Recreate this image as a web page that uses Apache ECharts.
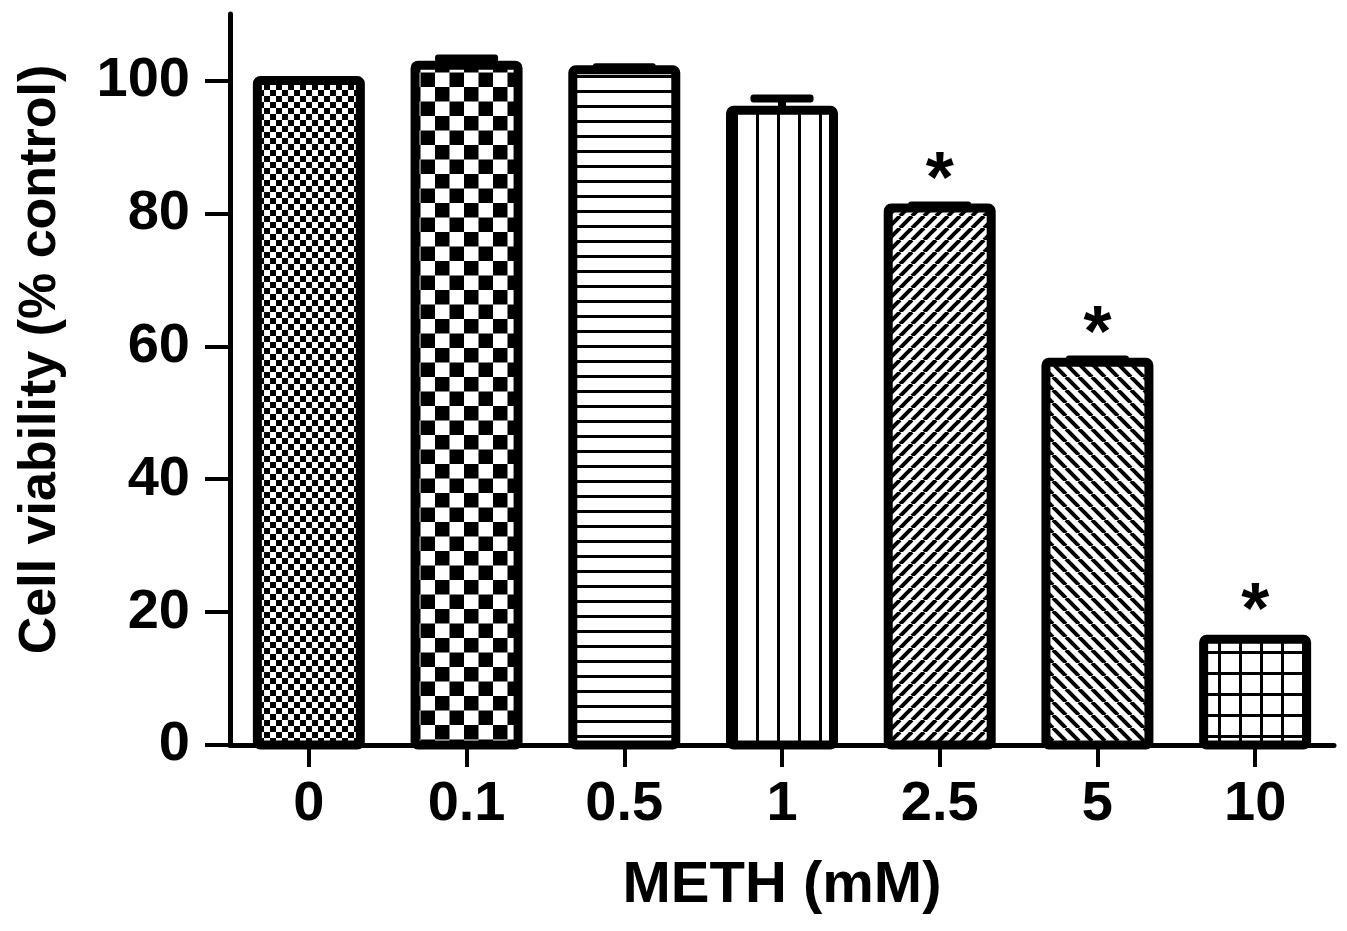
<!DOCTYPE html>
<html><head><meta charset="utf-8">
<script src="https://cdn.jsdelivr.net/npm/echarts@6/dist/echarts.min.js"></script>
<style>html,body{margin:0;padding:0;background:#fff}#c{width:1347px;height:931px}</style>
</head><body><div id="c"></div>
<script>
const categories = ['0', '0.1', '0.5', '1', '2.5', '5', '10'];
const viability = [100, 102.3, 101.6, 95.5, 80.8, 57.6, 15.9];
const sem = [0, 1.0, 0.4, 1.8, 0.4, 0.4, 0];
const significance = ['', '', '', '', '*', '*', '*'];
const yTicks = [0, 20, 40, 60, 80, 100];
const patternKinds = ['fineChecker', 'coarseChecker', 'hlines', 'vlines', 'diagFwd', 'diagBack', 'grid'];

function makePattern(kind) {
  const c = document.createElement('canvas');
  const ctx = c.getContext('2d');
  let w = 12, h = 12;
  if (kind === 'fineChecker') { w = h = 12; }
  else if (kind === 'coarseChecker') { w = h = 29; }
  else if (kind === 'hlines') { w = 4; h = 15; }
  else if (kind === 'vlines') { w = 21; h = 4; }
  else if (kind === 'diagFwd') { w = h = 12; }
  else if (kind === 'diagBack') { w = h = 13; }
  else if (kind === 'grid') { w = h = 21; }
  c.width = w; c.height = h;
  ctx.fillStyle = '#fff'; ctx.fillRect(0, 0, w, h);
  ctx.fillStyle = '#000'; ctx.strokeStyle = '#000';
  if (kind === 'fineChecker') {
    ctx.fillRect(0, 0, 6, 6); ctx.fillRect(6, 6, 6, 6);
  } else if (kind === 'coarseChecker') {
    ctx.fillRect(0, 0, 14.5, 14.5); ctx.fillRect(14.5, 14.5, 14.5, 14.5);
  } else if (kind === 'hlines') {
    ctx.fillRect(0, 0, w, 3);
  } else if (kind === 'vlines') {
    ctx.fillRect(0, 0, 3, h);
  } else if (kind === 'diagFwd') {
    ctx.lineWidth = 4;
    for (const o of [-w, 0, w]) { ctx.beginPath(); ctx.moveTo(o, h); ctx.lineTo(o + w, 0); ctx.stroke(); }
  } else if (kind === 'diagBack') {
    ctx.lineWidth = 4;
    for (const o of [-w, 0, w]) { ctx.beginPath(); ctx.moveTo(o, 0); ctx.lineTo(o + w, h); ctx.stroke(); }
  } else if (kind === 'grid') {
    ctx.fillRect(0, 0, w, 3); ctx.fillRect(0, 0, 3, h);
  }
  return c;
}
const patterns = patternKinds.map(makePattern);

const font = '"Liberation Sans", Arial, Helvetica, sans-serif';
const chart = echarts.init(document.getElementById('c'), null, { renderer: 'canvas' });

chart.setOption({
  animation: false,
  backgroundColor: '#fff',
  grid: { left: 230, right: 13, top: 14, bottom: 186, containLabel: false, outerBoundsMode: 'none' },
  xAxis: {
    type: 'category',
    data: categories,
    name: 'METH (mM)',
    nameLocation: 'middle',
    nameGap: 112,
    nameTextStyle: { fontSize: 58, fontWeight: 'bold', color: '#000', fontFamily: font },
    axisLine: { show: true, lineStyle: { color: '#000', width: 5 } },
    axisTick: { show: true, alignWithLabel: true, length: 22, lineStyle: { color: '#000', width: 4 } },
    axisLabel: { fontSize: 56, fontWeight: 'bold', color: '#000', margin: 32, fontFamily: font },
    splitLine: { show: false }
  },
  yAxis: {
    type: 'value',
    min: 0, max: 110,
    name: 'Cell viability (% control)',
    nameLocation: 'middle',
    nameGap: 163,
    nameTextStyle: { fontSize: 52, fontWeight: 'bold', color: '#000', fontFamily: font, padding: [0, 0, 0, 40] },
    axisLine: { show: true, lineStyle: { color: '#000', width: 5 } },
    axisTick: { show: true, customValues: yTicks, length: 25, lineStyle: { color: '#000', width: 4 } },
    axisLabel: { customValues: yTicks, fontSize: 56, fontWeight: 'bold', color: '#000', margin: 40, fontFamily: font },
    splitLine: { show: false }
  },
  series: [
    {
      type: 'custom',
      data: categories.map((c, i) => [i, viability[i]]),
      renderItem: function (params, api) {
        const i = api.value(0), v = api.value(1);
        const base = api.coord([i, 0]);
        const top = api.coord([i, v]);
        const bw = api.size([1, 0])[0] * 0.653;
        const children = [{
          type: 'rect',
          shape: { x: base[0] - bw / 2, y: top[1], width: bw, height: base[1] - top[1], r: 3 },
          style: { fill: { image: patterns[i], repeat: 'repeat' }, stroke: '#000', lineWidth: 9, lineJoin: 'round' }
        }];
        if (significance[i]) {
          children.push({
            type: 'text',
            style: {
              text: significance[i], x: top[0], y: top[1] + 10,
              align: 'center', verticalAlign: 'bottom',
              font: 'bold 72px ' + font, fill: '#000'
            }
          });
        }
        return { type: 'group', children: children };
      },
      z: 2,
      silent: true
    },
    {
      type: 'custom',
      data: categories.map((c, i) => [i, viability[i], sem[i]]),
      renderItem: function (params, api) {
        const i = api.value(0), v = api.value(1), e = api.value(2);
        if (!e) return null;
        const top = api.coord([i, v + e]);
        const base = api.coord([i, v]);
        const capW = 63, t = 8;
        return {
          type: 'group',
          children: [
            { type: 'rect', shape: { x: top[0] - t / 2, y: top[1], width: t, height: Math.max(0, base[1] - top[1]) }, style: { fill: '#000' } },
            { type: 'rect', shape: { x: top[0] - capW / 2, y: top[1] - t / 2, width: capW, height: t, r: 3 }, style: { fill: '#000' } }
          ]
        };
      },
      z: 3,
      silent: true
    }
  ]
});
</script>
</body></html>
